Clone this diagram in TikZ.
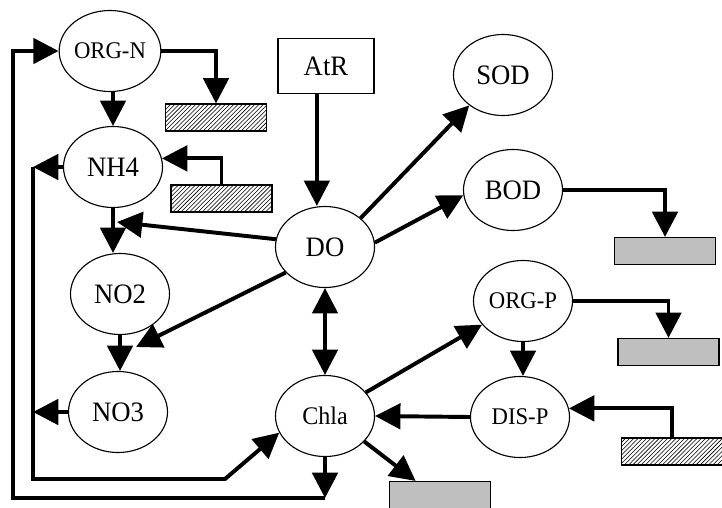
\documentclass[tikz,border=0pt]{standalone}
\usepackage{fontspec}
\setmainfont[FakeStretch=0.95]{Liberation Serif}
\usetikzlibrary{arrows.meta,patterns,shapes.geometric}
\tikzset{
	pool/.style={draw, ellipse, line width=0.8pt, minimum width=2.475cm, minimum height=2.025cm, inner sep=0pt, font=\fontsize{20}{24}\selectfont},
	smallpool/.style={pool, font=\fontsize{17}{20}\selectfont},
	source/.style={draw, line width=0.8pt, minimum width=2.4cm, minimum height=1.375cm, font=\fontsize{20}{24}\selectfont},
	sink/.style={draw, line width=0.8pt, minimum width=2.525cm, minimum height=0.675cm, inner sep=0pt},
	hatched/.style={sink, pattern=north east lines},
	settled/.style={sink, fill=gray!50},
	flux/.style={line width=2.8pt, -{Triangle[length=18pt,width=18pt]}},
	bothways/.style={line width=2.8pt, {Triangle[length=18pt,width=18pt]}-{Triangle[length=18pt,width=18pt]}},
}
\begin{document}
\begin{tikzpicture}[x=0.025cm, y=-0.025cm]
	\useasboundingbox (0,0) rectangle (722,507);
	\node[smallpool] (orgn) at (110,51) {ORG-N};
	\node[pool] (nh4) at (113,167) {NH4};
	\node[pool] (no2) at (120,294) {NO2};
	\node[pool] (no3) at (118,412) {NO3};
	\node[pool] (do) at (325,247) {DO};
	\node[pool, font=\fontsize{18}{22}\selectfont] (chla) at (325,416) {Chla};
	\node[pool] (sod) at (503,75) {SOD};
	\node[pool] (bod) at (513,190) {BOD};
	\node[smallpool] (orgp) at (523,301) {ORG-P};
	\node[smallpool] (disp) at (520,417) {DIS-P};
	\node[source] (atr) at (326,66) {AtR};
	\node[hatched] (hatch1) at (216,117.5) {};
	\node[hatched] (hatch2) at (221.5,198.5) {};
	\node[hatched] (hatch3) at (672,451.5) {};
	\node[settled] (gray1) at (665,251) {};
	\node[settled] (gray2) at (668.5,352) {};
	\node[settled] (gray3) at (440,495) {};

	\coordinate (innertop) at (33,167);
	\coordinate (innerbot) at (33,479);
	\coordinate (innerturn) at (225,479);
	\coordinate (outerbr) at (325,498);
	\coordinate (outerbl) at (13,498);
	\coordinate (nmid) at (117,222);
	\coordinate (nlow) at (136,347);

	\draw[flux] (orgn.south -| nh4) -- (nh4.north);
	\draw[flux] (nh4.south) -- (nh4.south |- no2.north);
	\draw[flux] (no2.south) -- (no2.south |- no3.north);
	\draw[flux] (orgn.east) -| (hatch1.north);
	\draw[flux] (hatch2.north) |- (nh4.10);
	\draw[flux] (nh4.west) -- (nh4.west -| innertop);
	\draw[flux] (no3.west) -- (no3.west -| innertop);
	\draw[flux] (innertop) -- (innerbot) -- (innerturn) -- (chla.200);
	\draw[flux] (chla.south) -- (outerbr);
	\draw[flux] (outerbr) -- (outerbl) |- (orgn.west);

	\draw[flux] (atr.252) -- (atr.252 |- do.north);
	\draw[flux] (do.171) -- (nmid);
	\draw[flux] (do.213) -- (nlow);
	\draw[flux] (do.39) -- (sod.222);
	\draw[flux] (do.5) -- (bod.186);
	\draw[flux] (bod.east) -| (gray1.north);
	\draw[bothways] (do.south) -- (chla.north);

	\draw[flux] (chla.30) -- (orgp.210);
	\draw[flux] (chla.327) -- (gray3.150);
	\draw[flux] (orgp.south) -- (orgp.south |- disp.north);
	\draw[flux] (orgp.east) -| (gray2.north);
	\draw[flux] (disp.west) -- (chla.east);
	\draw[flux] (hatch3.north) |- (disp.10);
\end{tikzpicture}
\end{document}
